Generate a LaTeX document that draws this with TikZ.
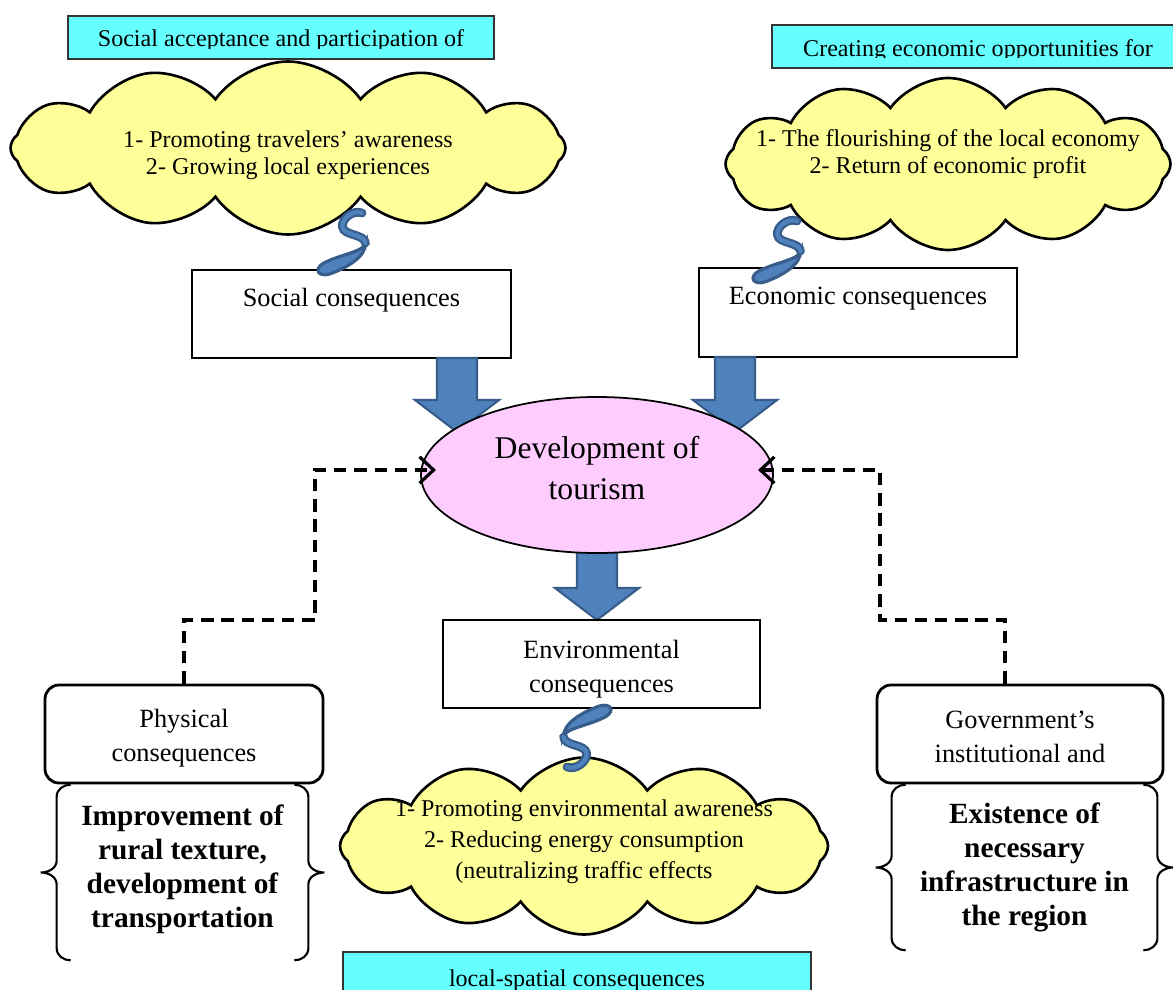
\documentclass[tikz,border=0pt]{standalone}
\usepackage{fontspec}
\setmainfont{Liberation Serif}
\usepackage{tikz}
\usetikzlibrary{arrows.meta, positioning, shapes.geometric, shapes.symbols, calc}

\definecolor{tagcyan}{RGB}{102,255,255}
\definecolor{cloudyellow}{RGB}{255,255,153}
\definecolor{devpink}{RGB}{255,204,255}
\definecolor{arrowblue}{RGB}{79,129,189}
\definecolor{arrowedge}{RGB}{56,93,138}

\newlength{\unitpx}
\setlength{\unitpx}{0.02cm}

% big block arrow from #1 down to the tip #2
\newcommand{\fatarrow}[2]{%
  \draw[fatarrow] ($(#1)+(-20,0)$) -- ($(#1)+(20,0)$) -- ($(#2)+(20,-32)$)
    -- ($(#2)+(42,-32)$) -- (#2) -- ($(#2)+(-42,-32)$) -- ($(#2)+(-20,-32)$) -- cycle;}

% curly link between a cloud and its box
\newcommand{\squiggle}[2]{%
  \begin{scope}[shift={(#1)}, rotate=#2, scale=1.15]
    \filldraw[squigdrop] (3,26) .. controls (2,34) and (-20,36) .. (-34,44)
      .. controls (-42,49) and (-38,56) .. (-28,53) .. controls (-14,48) and (4,38) .. (3,26) -- cycle;
    \draw[squigline] (0,0) .. controls (-8,-3) and (-18,5) .. (-17,12)
      .. controls (-16,20) and (2,18) .. (3,26);
  \end{scope}}

% brace on both sides of a node
\newcommand{\bracepair}[1]{%
  \draw[brace] ($(#1.north west)+(14,0)$) to[out=180,in=90] ($(#1.north west)+(0,12)$)
    -- ($(#1.west)+(0,-12)$) to[out=-90,in=0] ($(#1.west)+(-16,0)$)
    to[out=0,in=90] ($(#1.west)+(0,12)$) -- ($(#1.south west)+(0,-12)$)
    to[out=-90,in=180] ($(#1.south west)+(14,0)$);
  \draw[brace] ($(#1.north east)+(-14,0)$) to[out=0,in=90] ($(#1.north east)+(0,12)$)
    -- ($(#1.east)+(0,-12)$) to[out=-90,in=180] ($(#1.east)+(16,0)$)
    to[out=180,in=90] ($(#1.east)+(0,12)$) -- ($(#1.south east)+(0,-12)$)
    to[out=-90,in=0] ($(#1.south east)+(-14,0)$);}

\begin{document}
\begin{tikzpicture}[
  x=\unitpx, y=-0.02cm,
  >=Latex,
  font=\fontsize{15}{19.3}\selectfont,
  conbox/.style={rectangle, draw, line width=0.8pt, align=center, inner sep=2pt},
  roundbox/.style={rectangle, rounded corners=8pt, draw, line width=1.6pt, align=center},
  cloudnode/.style={cloud, cloud puffs=12, cloud puff arc=110, cloud ignores aspect, draw,
    line width=1.5pt, fill=cloudyellow, inner sep=0pt},
  cloudtext/.style={align=center, inner sep=0pt, font=\fontsize{13.7}{15.4}\selectfont},
  tagbox/.style={rectangle, draw=black!80, line width=0.6pt, fill=tagcyan},
  tagtext/.style={anchor=base, inner sep=0pt, font=\fontsize{13.7}{16}\selectfont},
  devnode/.style={ellipse, draw, line width=1pt, fill=devpink, align=center,
    font=\fontsize{18}{23.3}\selectfont},
  fatarrow/.style={fill=arrowblue, draw=arrowedge, line width=1.2pt, line join=miter},
  squigline/.style={draw=arrowedge, double=arrowblue, double distance=2.4pt,
    line width=1.3pt, line cap=round},
  squigdrop/.style={fill=arrowblue, draw=arrowedge, line width=1.8pt},
  dashline/.style={line width=2pt, dash pattern=on 7pt off 4.5pt, shorten >=-9pt,
    -{Straight Barb[length=8pt,width=15pt,line width=1.8pt]}},
  bracetext/.style={align=center, font=\bfseries\fontsize{16.7}{19.3}\selectfont},
  brace/.style={line width=1.2pt},
]
\clip (0,0) rectangle (1173,990);

% --- titles ---
\node[tagbox, minimum width=426\unitpx, minimum height=43\unitpx] (tagsoc) at (281,37.5) {};
\begin{scope}
  \clip (68,16) rectangle (494,49);
  \node[tagtext] (tagsoctext) at (281,47) {Social acceptance and participation of};
\end{scope}
\node[tagbox, minimum width=410\unitpx, minimum height=43\unitpx] (tageco) at (977,46.5) {};
\begin{scope}
  \clip (772,25) rectangle (1173,58);
  \node[tagtext] (tagecotext) at (978,57) {Creating economic opportunities for};
\end{scope}
\node[tagbox, minimum width=468\unitpx, minimum height=60\unitpx] (tagloc) at (577,982) {};
\node[tagtext] (tagloctext) at (577,986) {local-spatial consequences};

% --- clouds ---
\node[cloudnode, minimum width=555\unitpx, minimum height=173\unitpx] (cloudsoc) at (288,148) {};
\node[cloudtext] (cloudsoctext) at (288,155)
  {1- Promoting travelers' awareness\\2- Growing local experiences};
\node[cloudnode, minimum width=445\unitpx, minimum height=172\unitpx] (cloudeco) at (948,164) {};
\node[cloudtext] (cloudecotext) at (948,154)
  {1- The flourishing of the local economy\\2- Return of economic profit};
\node[cloudnode, minimum width=488\unitpx, minimum height=177\unitpx] (cloudenv) at (584,846) {};
\node[cloudtext, font=\fontsize{13.7}{17.6}\selectfont] (cloudenvtext) at (584,842)
  {1- Promoting environmental awareness\\2- Reducing energy consumption\\(neutralizing traffic effects};

% --- consequences ---
\node[conbox, minimum width=319\unitpx, minimum height=88\unitpx] (social) at (351.5,314)
  {Social consequences\\\mbox{}};
\node[conbox, minimum width=318\unitpx, minimum height=89\unitpx] (economic) at (858,312.5)
  {Economic consequences\\\mbox{}};

% --- block arrows ---
\coordinate (socA) at (457,358);
\coordinate (socB) at (457,432);
\coordinate (ecoA) at (735,357);
\coordinate (ecoB) at (735,432);
\coordinate (devA) at (597,545);
\coordinate (devB) at (597,620);
\fatarrow{socA}{socB}
\fatarrow{ecoA}{ecoB}
\fatarrow{devA}{devB}

% --- centre ---
\node[devnode, minimum width=352\unitpx, minimum height=156\unitpx] (dev) at (597,475) {};
\node[align=center, font=\fontsize{18}{23.3}\selectfont] (devtext) at (597,468)
  {Development of\\tourism};

\node[conbox, minimum width=317\unitpx, minimum height=88\unitpx] (env) at (601.5,664) {};
\node[align=center] (envtext) at (601.5,669) {Environmental\\consequences};

% --- side boxes ---
\node[roundbox, minimum width=278\unitpx, minimum height=98\unitpx] (phys) at (184,734) {};
\node[align=center] (phystext) at (184,738) {Physical\\consequences};
\node[roundbox, minimum width=286\unitpx, minimum height=98\unitpx] (gov) at (1020,734) {};
\node[align=center] (govtext) at (1020,737) {Government's\\institutional and};

\node[bracetext, minimum width=251\unitpx, minimum height=175\unitpx] (physbrace) at (182.5,872.5) {};
\node[bracetext] (physbracetext) at (182.5,869)
  {Improvement of\\rural texture,\\development of\\transportation};
\bracepair{physbrace}
\node[bracetext, minimum width=265\unitpx, minimum height=165\unitpx] (govbrace) at (1024.5,867.5)
  {Existence of\\necessary\\infrastructure in\\the region};
\bracepair{govbrace}

% --- dashed links ---
\coordinate (lbend) at (315,620);
\coordinate (rbend) at (880,620);
\draw[dashline] (phys.north) |- (lbend) |- ([yshift=5\unitpx]dev.west);
\draw[dashline] ([xshift=-15\unitpx]gov.north) |- (rbend) |- ([yshift=5\unitpx]dev.east);

% --- links between clouds and boxes ---
\coordinate (sqsoc) at (362,213);
\coordinate (sqeco) at (797,221);
\coordinate (sqenv) at (567,767);
\squiggle{sqsoc}{0}
\squiggle{sqeco}{0}
\squiggle{sqenv}{180}

\end{tikzpicture}
\end{document}
